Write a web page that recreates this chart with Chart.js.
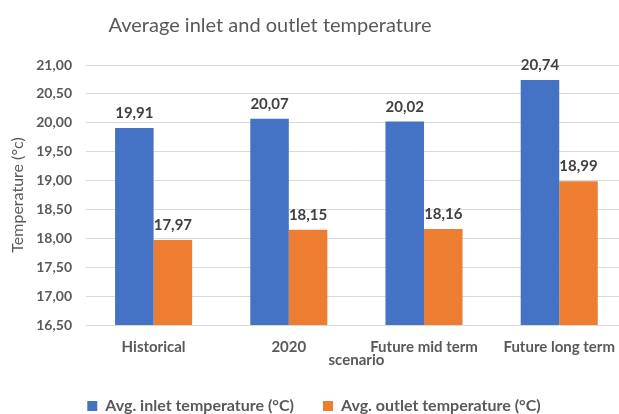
<!DOCTYPE html>
<html>
<head>
<meta charset="utf-8">
<script src="https://cdn.jsdelivr.net/npm/chart.js@4"></script>
<style>
  html, body { margin: 0; padding: 0; background: #fff; overflow: hidden; }
  #wrap { position: relative; width: 619px; height: 414px; overflow: hidden; }
  #box { position: absolute; left: 0; top: 0; width: 628px; height: 424px; }
  #title {
    position: absolute; top: 12px; left: 70px; width: 400px; text-align: center;
    font: 20px Lato, "Open Sans", sans-serif; color: #595959; white-space: nowrap;
  }
</style>
</head>
<body>
<div id="wrap">
  <div id="box"><canvas id="chart" width="628" height="424"></canvas></div>
  <div id="title">Average inlet and outlet temperature</div>
</div>
<script>
// Scenario categories and average temperatures (°C)
const categories = ['Historical', '2020', 'Future mid term', 'Future long term'];
const inletTemps = [19.91, 20.07, 20.02, 20.74];
const outletTemps = [17.97, 18.15, 18.16, 18.99];
const yTicks = [16.5, 17, 17.5, 18, 18.5, 19, 19.5, 20, 20.5, 21];

const fmt = v => v.toFixed(2).replace('.', ',');
const FONT = 'Lato, "Open Sans", sans-serif';

// Value labels above each bar
const barLabels = {
  id: 'barLabels',
  afterDatasetsDraw(chart) {
    const ctx = chart.ctx;
    ctx.save();
    ctx.font = 'bold 15px ' + FONT;
    ctx.fillStyle = '#404040';
    ctx.textAlign = 'center';
    ctx.textBaseline = 'bottom';
    chart.data.datasets.forEach((ds, i) => {
      chart.getDatasetMeta(i).data.forEach((bar, j) => {
        ctx.fillText(fmt(ds.data[j]), bar.x, bar.y - 7);
      });
    });
    ctx.restore();
  }
};

new Chart(document.getElementById('chart'), {
  type: 'bar',
  data: {
    labels: categories,
    datasets: [
      { label: 'Avg. inlet temperature (°C)', data: inletTemps, backgroundColor: '#4472C4' },
      { label: 'Avg. outlet temperature (°C)', data: outletTemps, backgroundColor: '#ED7D31' }
    ]
  },
  options: {
    responsive: false,
    animation: false,
    devicePixelRatio: 1,
    layout: { padding: { top: 65, left: 0, right: 0, bottom: 0 } },
    datasets: { bar: { categoryPercentage: 0.57, barPercentage: 1.0 } },
    scales: {
      x: {
        grid: { display: false, drawTicks: false },
        border: { color: '#D9D9D9' },
        ticks: { color: '#595959', font: { family: FONT, size: 15, weight: 'bold' }, padding: 13, maxRotation: 0 },
        title: { display: true, text: 'scenario', color: '#595959', padding: { top: 0, bottom: 0 },
                 font: { family: FONT, size: 15, weight: 'bold' } },
        afterFit(scale) { scale.height = 44; }
      },
      y: {
        min: 16.5, max: 21,
        afterBuildTicks(scale) { scale.ticks = yTicks.map(v => ({ value: v })); },
        grid: { color: '#D9D9D9', drawTicks: false },
        border: { display: false },
        ticks: { color: '#595959', font: { family: FONT, size: 14, weight: 'bold' }, padding: 14,
                 callback: v => fmt(v) },
        title: { display: true, text: 'Temperature (°c)', color: '#595959', padding: { top: 8, bottom: 0 },
                 font: { family: FONT, size: 16, weight: 'normal' } },
        afterFit(scale) { scale.width = 86; }
      }
    },
    plugins: {
      legend: {
        position: 'bottom',
        labels: { color: '#595959', boxWidth: 10, boxHeight: 10, padding: 29,
                  font: { family: FONT, size: 16, weight: 'bold' } }
      },
      tooltip: { enabled: false }
    }
  },
  plugins: [barLabels]
});
</script>
</body>
</html>
